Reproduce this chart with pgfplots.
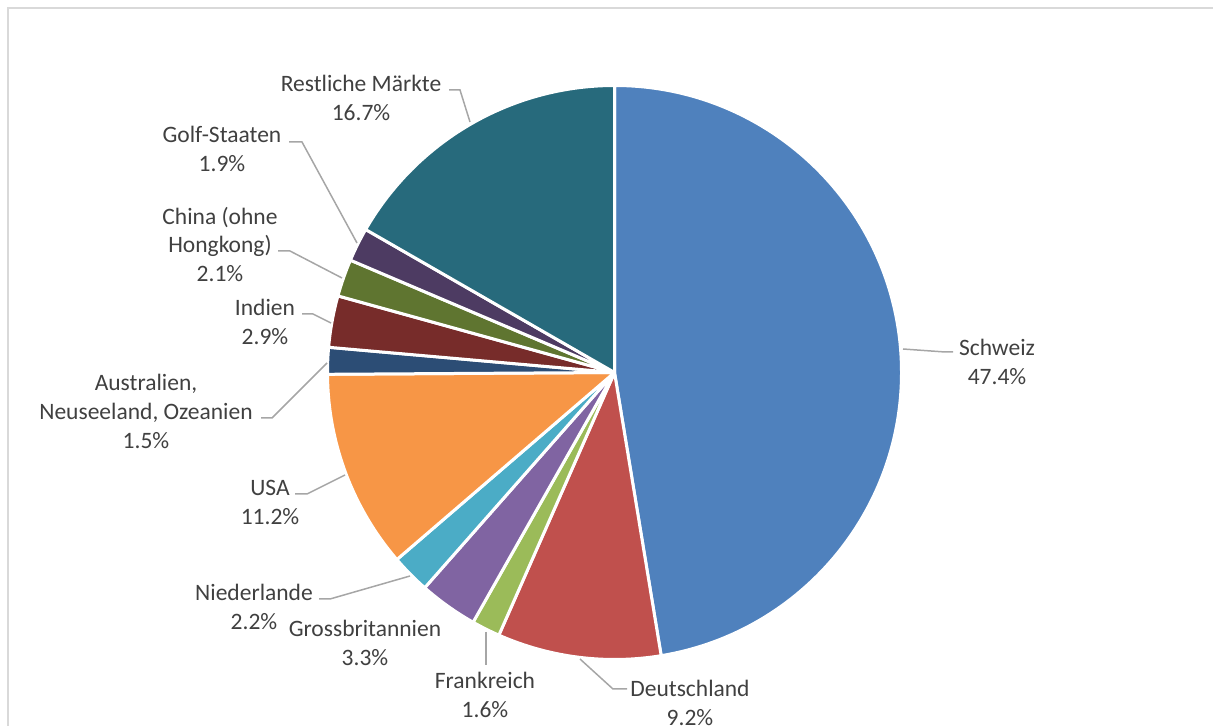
\documentclass[border=0pt]{standalone}
\usepackage{pgfplots}
\usepackage{pgfplotstable}
\pgfplotsset{compat=1.18}
\usepackage{fontspec}
\setmainfont{Carlito}

\definecolor{csch}{HTML}{4F81BD}
\definecolor{cdeu}{HTML}{C0504D}
\definecolor{cfra}{HTML}{9BBB59}
\definecolor{cgbr}{HTML}{8064A2}
\definecolor{cnld}{HTML}{4BACC6}
\definecolor{cusa}{HTML}{F79646}
\definecolor{caus}{HTML}{2C4D75}
\definecolor{cind}{HTML}{772C2A}
\definecolor{cchn}{HTML}{5F7530}
\definecolor{cgulf}{HTML}{4D3B62}
\definecolor{crest}{HTML}{276A7C}
\definecolor{txtgray}{HTML}{404040}
\definecolor{leadgray}{HTML}{A6A6A6}
\definecolor{framegray}{HTML}{D9D9D9}

\tikzset{
  lbl/.style={font=\fontsize{11.8}{14.5}\selectfont, text=txtgray,
    align=center, inner sep=0pt},
  lead/.style={draw=leadgray, line width=0.75bp},
}

% shares in percent, clockwise from 12 o'clock
\pgfplotstableread{
name value
sch 47.4
deu 9.2
fra 1.6
gbr 3.3
nld 2.2
usa 11.2
aus 1.5
ind 2.9
chn 2.1
gulf 1.9
rest 16.7
}\sharestable

\begin{document}
\begin{tikzpicture}
\begin{axis}[
    scale only axis,
    width=606.5bp, height=363bp,
    xmin=0, xmax=1213, ymin=0, ymax=726,
    hide axis, clip=false,
  ]
  % frame
  \draw[framegray, line width=1bp] (axis cs:7.5,0) -- (axis cs:7.5,717.5) -- (axis cs:1213,717.5);

  % slices
  \pgfplotstablegetrowsof{\sharestable}
  \pgfmathtruncatemacro{\nrows}{\pgfplotsretval-1}
  \def\cum{0}
  \pgfplotsforeachungrouped \i in {0,...,\nrows}{%
    \pgfplotstablegetelem{\i}{name}\of{\sharestable}\let\slname\pgfplotsretval
    \pgfplotstablegetelem{\i}{value}\of{\sharestable}\let\slval\pgfplotsretval
    \pgfmathsetmacro{\angA}{90-3.6*\cum}
    \pgfmathsetmacro{\cum}{\cum+\slval}
    \pgfmathsetmacro{\angB}{90-3.6*\cum}
    \edef\slice{\noexpand\filldraw[fill=c\slname, draw=white, line width=1.5bp, line join=round]
      (axis cs:614.5,353.5) -- ++(\angA:143.5bp)
      arc[start angle=\angA, end angle=\angB, radius=143.5bp] -- cycle;}%
    \slice
  }

  % leader lines
  \draw[lead] (axis cs:903,377) -- (axis cs:945,374) -- (axis cs:953,374);
  \draw[lead] (axis cs:580,67) -- (axis cs:613,37) -- (axis cs:627,37);
  \draw[lead] (axis cs:486,94) -- (axis cs:486,61);
  \draw[lead] (axis cs:410,150) -- (axis cs:330,127) -- (axis cs:319,127);
  \draw[lead] (axis cs:345,251) -- (axis cs:307,232) -- (axis cs:295,232);
  \draw[lead] (axis cs:327,363) -- (axis cs:272,308) -- (axis cs:261,308);
  \draw[lead] (axis cs:331,403) -- (axis cs:313,412) -- (axis cs:302,412);
  \draw[lead] (axis cs:342,448) -- (axis cs:290,475) -- (axis cs:278,475);
  \draw[lead] (axis cs:357,483) -- (axis cs:302,584) -- (axis cs:289,584);
  \draw[lead] (axis cs:470,604) -- (axis cs:460,636) -- (axis cs:449,636);

  % labels
  \node[lbl] at (axis cs:997,364) {Schweiz\\47.4\%};
  \node[lbl] at (axis cs:690,23.5) {Deutschland\\9.2\%};
  \node[lbl] at (axis cs:485,31) {Frankreich\\1.6\%};
  \node[lbl] at (axis cs:365,83) {Grossbritannien\\3.3\%};
  \node[lbl] at (axis cs:254,119) {Niederlande\\2.2\%};
  \node[lbl] at (axis cs:270,223.5) {USA\\11.2\%};
  \node[lbl] at (axis cs:146,314.5) {Australien,\\Neuseeland, Ozeanien\\1.5\%};
  \node[lbl] at (axis cs:265,404) {Indien\\2.9\%};
  \node[lbl] at (axis cs:220,481.5) {China (ohne\\Hongkong)\\2.1\%};
  \node[lbl] at (axis cs:222,577) {Golf-Staaten\\1.9\%};
  \node[lbl] at (axis cs:361,628.5) {Restliche Märkte\\16.7\%};
\end{axis}
\pgfresetboundingbox
\path (current axis.south west) rectangle (current axis.north east);
\end{tikzpicture}
\end{document}
